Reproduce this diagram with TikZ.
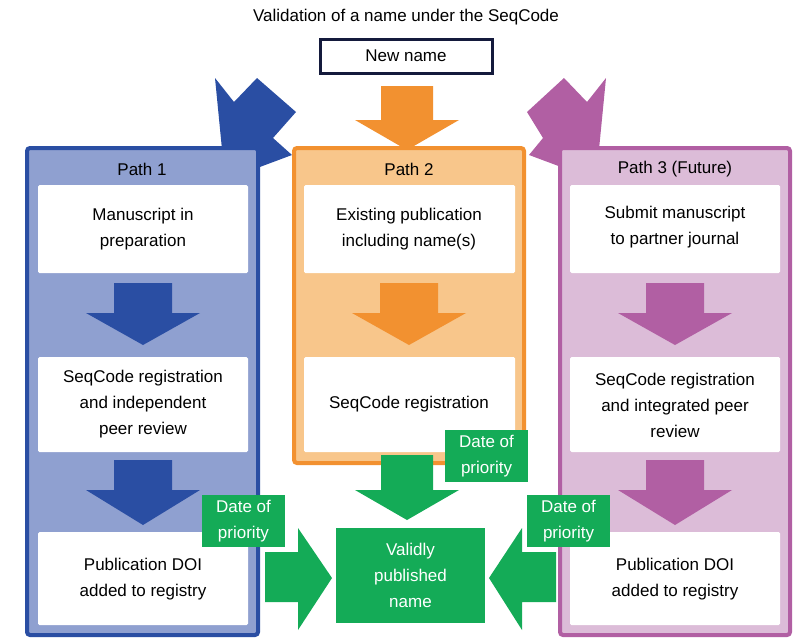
\documentclass[tikz,border=0pt]{standalone}
\usepackage{fontspec}
\setmainfont{Liberation Sans}
\begin{document}
\definecolor{bl}{HTML}{2A4EA3}\definecolor{blf}{HTML}{8FA0D0}
\definecolor{orr}{HTML}{F29130}\definecolor{orf}{HTML}{F8C68B}
\definecolor{pu}{HTML}{B15FA3}\definecolor{puf}{HTML}{DCBCD8}
\definecolor{gr}{HTML}{14AB57}\definecolor{nv}{HTML}{141A3C}
\begin{tikzpicture}[x=1pt,y=-1pt,
  txt/.style={font=\fontsize{17}{26}\selectfont,align=center},
  inner/.style={fill=white,draw=none,rounded corners=1.5pt},
  pbox/.style={line width=4pt,rounded corners=3pt},
  dp/.style={fill=gr,text=white,txt,inner sep=0pt}]
\useasboundingbox (0,0) rectangle (810,643);
\node[txt] (title) at (406,17) {Validation of a name under the SeqCode};
\node[draw=nv,line width=3pt,minimum width=172,minimum height=34,txt,inner sep=0pt] (nn) at (406,56) {New name};
% diagonal arrows
\fill[bl] (257,78)--(296,112)--(273,138)--(292,155)--(225,180)--(215,78)--(234,102)--cycle;
\fill[pu] (564,78)--(527,112)--(543,138)--(529,155)--(596,180)--(606,78)--(587,102)--cycle;
% orange top arrow
\fill[orr] (381,86)--(433,86)--(433,120)--(459,120)--(407,150)--(355,120)--(381,120)--cycle;
% path boxes
\draw[pbox,draw=bl,fill=blf] (27,148) rectangle (258,635);
\draw[pbox,draw=orr,fill=orf] (294,148) rectangle (524,463);
\draw[pbox,draw=pu,fill=puf] (560,148) rectangle (790,635);
\node[txt] (p1) at (142,169) {Path 1};
\node[txt] (p2) at (409,169) {Path 2};
\node[txt] (p3) at (675,169) {Path 3 (Future)};
% inner boxes
\fill[inner] (38,185) rectangle (248,273); \node[txt] (a1) at (143,229) {Manuscript in\\preparation};
\fill[inner] (38,357) rectangle (248,452); \node[txt] (a2) at (143,404) {SeqCode registration\\and independent\\peer review};
\fill[inner] (38,532) rectangle (248,625); \node[txt] (a3) at (143,579) {Publication DOI\\added to registry};
\fill[inner] (304,185) rectangle (515,273); \node[txt] (b1) at (409,229) {Existing publication\\including name(s)};
\fill[inner] (304,357) rectangle (515,452); \node[txt] (b2) at (409,404) {SeqCode registration};
\fill[inner] (570,185) rectangle (780,273); \node[txt] (c1) at (675,227) {Submit manuscript\\to partner journal};
\fill[inner] (570,357) rectangle (780,452); \node[txt] (c2) at (675,405) {SeqCode registration\\and integrated peer\\review};
\fill[inner] (570,532) rectangle (780,625); \node[txt] (c3) at (675,579) {Publication DOI\\added to registry};
% down arrows
\foreach \cx/\col in {143/bl,409/orr,675/pu}{
  \fill[\col] (\cx-29,283)--(\cx+29,283)--(\cx+29,313)--(\cx+57,313)--(\cx,345)--(\cx-57,313)--(\cx-29,313)--cycle;}
\foreach \cx/\col in {143/bl,675/pu}{
  \fill[\col] (\cx-29,460)--(\cx+29,460)--(\cx+29,490)--(\cx+57,490)--(\cx,525)--(\cx-57,490)--(\cx-29,490)--cycle;}
% green arrows
\fill[gr] (381,455)--(433,455)--(433,490)--(459,490)--(407,520)--(355,490)--(381,490)--cycle;
\fill[gr] (265,552)--(298,552)--(298,528)--(332,578)--(298,630)--(298,602)--(265,602)--cycle;
\fill[gr] (556,552)--(522,552)--(522,528)--(489,578)--(522,630)--(522,602)--(556,602)--cycle;
\node[dp,minimum width=149,minimum height=95] (vp) at (410.5,575.5) {Validly\\published\\name};
\node[dp,minimum width=83,minimum height=52] (d2) at (486.5,456) {Date of\\priority};
\node[dp,minimum width=83,minimum height=52] (d1) at (243.5,521) {Date of\\priority};
\node[dp,minimum width=83,minimum height=52] (d3) at (568.5,521) {Date of\\priority};
\end{tikzpicture}
\end{document}
